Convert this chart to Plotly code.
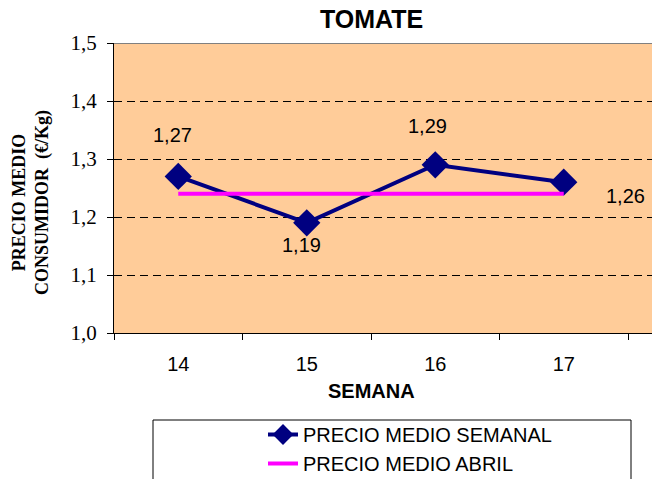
import plotly.graph_objects as go

semanas = ["14", "15", "16", "17"]
precio_semanal = [1.27, 1.19, 1.29, 1.26]
precio_abril = [1.24, 1.24, 1.24, 1.24]
y_ticks = [1.0, 1.1, 1.2, 1.3, 1.4, 1.5]
y_tick_labels = ["1,0", "1,1", "1,2", "1,3", "1,4", "1,5"]
label_texts = ["1,27", "1,19", "1,29", "1,26"]

W, H = 652, 479
L, R, T, B = 114, 0, 43, 146
pw = W - L - R
ph = H - T - B
cat_px = 128.5
xmax = -0.5 + pw / cat_px

xs = list(range(len(semanas)))

SANS = "Liberation Sans, Arial"
SERIF = "Liberation Serif, Times New Roman"

fig = go.Figure()
fig.add_trace(go.Scatter(
    x=xs, y=precio_semanal, mode="lines+markers", name="PRECIO MEDIO SEMANAL",
    line=dict(color="#000080", width=4),
    marker=dict(symbol="diamond", size=21, color="#000080"),
))
fig.add_trace(go.Scatter(
    x=xs, y=precio_abril, mode="lines", name="PRECIO MEDIO ABRIL",
    line=dict(color="#FF00FF", width=4),
))

# data labels offsets (pixels)
offsets = [(-6, 41), (-5, -22), (-8, 39), (62, -14)]
for i, (t, v) in enumerate(zip(label_texts, precio_semanal)):
    dx, dy = offsets[i]
    fig.add_annotation(x=xs[i], y=v, text=t, showarrow=False, xshift=dx, yshift=dy,
                       xanchor="center", yanchor="middle",
                       font=dict(family=SANS, size=20, color="black"))

# top border of plot area
fig.add_shape(type="line", xref="paper", yref="y", x0=0, x1=1, y0=1.5, y1=1.5,
              line=dict(color="#808080", width=2))

def py(p):
    return -(p - (T + ph)) / ph
def pxx(p):
    return (p - L) / pw

# legend box
fig.add_shape(type="rect", xref="paper", yref="paper",
              x0=pxx(153), x1=pxx(631), y0=py(500), y1=py(420),
              line=dict(color="black", width=1), fillcolor="white", layer="below")

title_cx = pxx(371)
fig.add_annotation(xref="paper", yref="paper", x=title_cx, y=py(19), text="<b>TOMATE</b>",
                   xanchor="center", yanchor="middle",
                   showarrow=False, font=dict(family=SANS, size=25, color="black"))
fig.add_annotation(xref="paper", yref="paper", x=title_cx, y=py(391), text="<b>SEMANA</b>",
                   xanchor="center", yanchor="middle",
                   showarrow=False, font=dict(family=SANS, size=20, color="black"))
fig.add_annotation(xref="paper", yref="paper", x=pxx(31), y=py(203),
                   text="<b>PRECIO MEDIO<br>CONSUMIDOR  (€/Kg)</b>", textangle=-90,
                   xanchor="center", yanchor="middle",
                   showarrow=False, font=dict(family=SERIF, size=18, color="black"))

fig.update_layout(
    width=W, height=H, margin=dict(l=L, r=R, t=T, b=B, autoexpand=False),
    paper_bgcolor="white", plot_bgcolor="#FFCC99",
    showlegend=True,
    legend=dict(x=pxx(263), y=py(415), xanchor="left", yanchor="top",
                bgcolor="rgba(0,0,0,0)", font=dict(family=SANS, size=20, color="black"),
                tracegroupgap=2),
    xaxis=dict(range=[-0.5, xmax], tickmode="array", tickvals=xs, ticktext=semanas,
               ticks="", showgrid=False, zeroline=False, showline=True, linecolor="black", linewidth=1,
               tickfont=dict(family=SANS, size=20, color="black"),
               minor=dict(tickmode="array", tickvals=[-0.5, 0.5, 1.5, 2.5, 3.5], ticks="outside",
                          ticklen=6, tickcolor="black", showgrid=False),
               ticklabelstandoff=13),
    yaxis=dict(range=[1.0, 1.5], tickmode="array", tickvals=y_ticks, ticktext=y_tick_labels,
               ticks="outside", ticklen=6, tickcolor="black", showline=True, linecolor="black", linewidth=1,
               showgrid=True, gridcolor="black", griddash="8px,5px", gridwidth=1, zeroline=False,
               ticklabelstandoff=6,
               tickfont=dict(family=SERIF, size=21, color="black")),
)

fig.write_html("out.html", config={"displayModeBar": False},
               post_script="document.body.style.margin='0';document.body.style.padding='0';")
